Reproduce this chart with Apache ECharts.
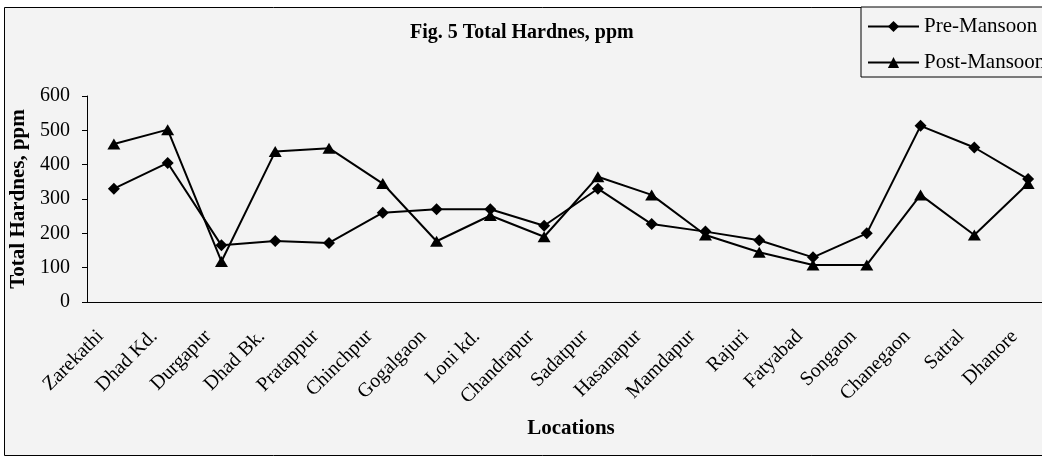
<!DOCTYPE html>
<html>
<head>
<meta charset="utf-8">
<script src="https://cdn.jsdelivr.net/npm/echarts@6/dist/echarts.min.js"></script>
<style>
  html, body { margin: 0; padding: 0; background: #fff; overflow: hidden; }
  #chart { width: 1080px; height: 457px; }
</style>
</head>
<body>
<div id="chart"></div>
<script>
// data
const locations = ["Zarekathi", "Dhad Kd.", "Durgapur", "Dhad Bk.", "Pratappur", "Chinchpur",
  "Gogalgaon", "Loni kd.", "Chandrapur", "Sadatpur", "Hasanapur", "Mamdapur", "Rajuri",
  "Fatyabad", "Songaon", "Chanegaon", "Satral", "Dhanore"];
const preMansoon = [330, 405, 165, 178, 172, 260, 270, 270, 222, 330, 227, 205, 180, 130, 200, 513, 450, 358];
const postMansoon = [460, 502, 118, 438, 448, 345, 177, 252, 190, 365, 312, 195, 145, 108, 108, 312, 195, 345];
const yTicks = [0, 100, 200, 300, 400, 500, 600];

document.addEventListener("DOMContentLoaded", function () {
  const chart = echarts.init(document.getElementById("chart"));
  const serif = "'Liberation Serif', 'Times New Roman', serif";

  const option = {
    animation: false,
    backgroundColor: "#fff",
    textStyle: { fontFamily: serif, color: "#000" },
    graphic: [
      {
        type: "rect",
        z: -10,
        shape: { x: 4.5, y: 7.5, width: 1100, height: 448 },
        style: { fill: "#f3f3f3", stroke: "#000", lineWidth: 1 },
      },
    ],
    title: {
      text: "Fig. 5 Total Hardnes, ppm",
      left: 410,
      top: 23,
      padding: 0,
      textStyle: { fontFamily: serif, fontSize: 20, fontWeight: "bold", color: "#000" },
    },
    legend: {
      orient: "vertical",
      left: 861,
      top: 7,
      padding: [9, 6, 4, 6],
      itemGap: 15,
      itemWidth: 51,
      itemHeight: 14,
      borderColor: "#000",
      borderWidth: 1,
      backgroundColor: "#f3f3f3",
      textStyle: { fontFamily: serif, fontSize: 21, color: "#000" },
      data: ["Pre-Mansoon", "Post-Mansoon"],
    },
    grid: { left: 87, top: 96, right: 25, bottom: 155 },
    xAxis: {
      type: "category",
      data: locations,
      name: "Locations",
      nameLocation: "middle",
      nameGap: 116,
      nameTextStyle: { fontFamily: serif, fontSize: 21, fontWeight: "bold", color: "#000" },
      axisLine: { lineStyle: { color: "#000", width: 1 } },
      axisTick: { length: 5, lineStyle: { color: "#000" } },
      axisLabel: {
        rotate: 45,
        margin: 18,
        padding: [0, 19, 0, 0],
        interval: 0,
        fontFamily: serif,
        fontSize: 20,
        color: "#000",
      },
    },
    yAxis: {
      type: "value",
      min: 0,
      max: 600,
      interval: 100,
      name: "Total Hardnes, ppm",
      nameLocation: "middle",
      nameGap: 56,
      nameTextStyle: { fontFamily: serif, fontSize: 21, fontWeight: "bold", color: "#000" },
      axisLine: { show: true, lineStyle: { color: "#000", width: 1 } },
      axisTick: { show: true, length: 5, lineStyle: { color: "#000" } },
      splitLine: { show: false },
      axisLabel: {
        margin: 17,
        fontFamily: serif,
        fontSize: 20,
        color: "#000",
        formatter: function (v) { return yTicks.indexOf(v) >= 0 ? String(v) : ""; },
      },
    },
    series: [
      {
        name: "Pre-Mansoon",
        type: "line",
        data: preMansoon,
        symbol: "diamond",
        symbolSize: 12,
        lineStyle: { color: "#000", width: 2 },
        itemStyle: { color: "#000" },
      },
      {
        name: "Post-Mansoon",
        type: "line",
        data: postMansoon,
        symbol: "triangle",
        symbolSize: [13, 11],
        lineStyle: { color: "#000", width: 2 },
        itemStyle: { color: "#000" },
      },
    ],
  };

  chart.setOption(option);
});
</script>
</body>
</html>
